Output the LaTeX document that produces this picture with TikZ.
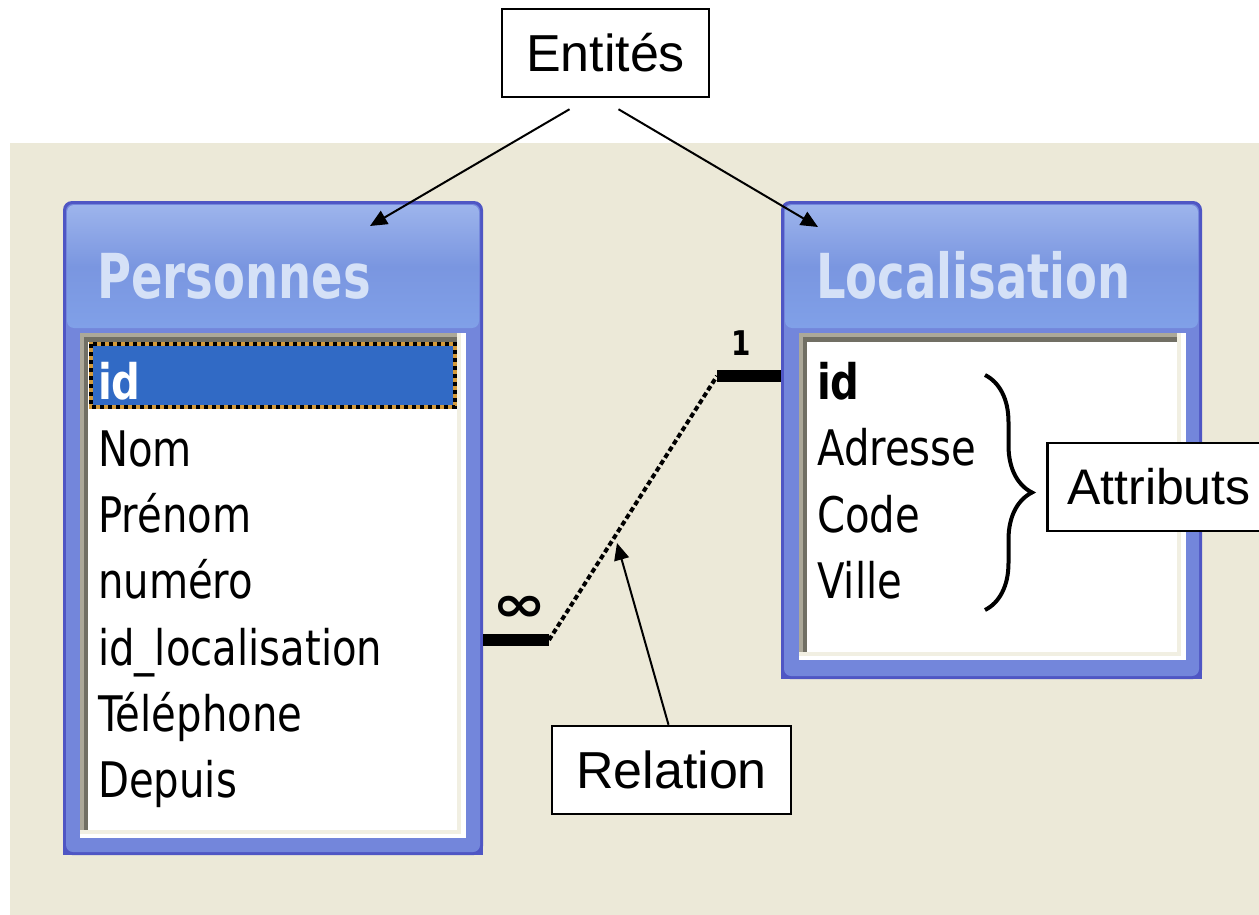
\documentclass[tikz,border=0pt]{standalone}
\usepackage{fontspec}
\usetikzlibrary{arrows.meta,decorations.pathreplacing,positioning}
\setmainfont{Liberation Sans}
\newfontfamily\rowfont[FakeStretch=0.82]{DejaVu Sans}
\newfontfamily\titlefont[FakeStretch=0.75]{DejaVu Sans}
\newfontfamily\symfont[FakeStretch=1.3]{DejaVu Sans}

\definecolor{xpbeige}{HTML}{ECE9D8}
\definecolor{xpedge}{HTML}{4F56C4}
\definecolor{xpframe}{HTML}{7386DB}
\definecolor{xptop}{HTML}{9DB4EC}
\definecolor{xptitle}{HTML}{7A96E0}
\definecolor{xptitlelow}{HTML}{80A0E8}
\definecolor{xptext}{HTML}{D5E1F7}
\definecolor{xpsel}{HTML}{316AC5}
\definecolor{xpfocus}{HTML}{D39A3A}
\definecolor{xpgray}{HTML}{ACA899}
\definecolor{xpdark}{HTML}{716F64}
\definecolor{xplight}{HTML}{F1EFE2}

\tikzset{
  lbl/.style={draw, line width=2.5pt, fill=white, font=\fontsize{52}{60}\selectfont,
    minimum height=88pt, inner xsep=22pt},
  lblarrow/.style={line width=2pt, -{Triangle[length=17pt,width=15pt]}},
  field/.style={anchor=base west, inner sep=0pt, font=\rowfont\fontsize{49}{55}\selectfont},
  wintitle/.style={anchor=base west, inner sep=0pt, text=xptext,
    font=\titlefont\bfseries\fontsize{62}{70}\selectfont},
  relthick/.style={line width=12pt},
  reldot/.style={line width=4pt, dash pattern=on 5pt off 3pt},
}

\begin{document}
\begin{tikzpicture}[x=1pt,y=-1pt]
        \useasboundingbox (0,0) rectangle (1259,915);
        \fill[white] (0,0) rectangle (1259,915);
        % Background of the relations window
        \fill[xpbeige] (10,143) rectangle (1259,915);

        % Window Personnes
        \fill[xpedge, rounded corners=9pt] (63,201) rectangle (483,855);
        \fill[xpedge] (63,240) rectangle (483,855);
        \fill[xpframe, rounded corners=7pt] (66,204) rectangle (480,852);
        \shade[top color=xptop, bottom color=xptitlelow, middle color=xptitle, rounded corners=7pt]
            (67,205) rectangle (479,328);
        \fill[white] (80,333) rectangle (466,838);
        \fill[xplight] (80,333) rectangle (461,834);
        \fill[xpgray] (80,333) rectangle (457,830);
        \fill[xpdark] (84,337) rectangle (457,830);
        \fill[white] (88,342) rectangle (457,830);
        % Selected row
        \fill[xpsel] (89,342) rectangle (457,409);
        \draw[xpfocus, line width=4pt] (91,344) rectangle (455,407);
        \draw[black, line width=4pt, dash pattern=on 4pt off 4pt] (91,344) rectangle (455,407);

        % Window Localisation
        \fill[xpedge, rounded corners=9pt] (781,201) rectangle (1202,679);
        \fill[xpedge] (781,240) rectangle (1202,679);
        \fill[xpframe, rounded corners=7pt] (784,204) rectangle (1199,676);
        \shade[top color=xptop, bottom color=xptitlelow, middle color=xptitle, rounded corners=7pt]
            (785,205) rectangle (1198,328);
        \fill[white] (799,333) rectangle (1186,660);
        \fill[xplight] (799,333) rectangle (1181,656);
        \fill[xpgray] (799,333) rectangle (1177,652);
        \fill[xpdark] (803,337) rectangle (1177,652);
        \fill[white] (807,342) rectangle (1177,652);

        % Titles
        \node[wintitle] (tPers) at (97,298) {Personnes};
        \node[wintitle] (tLoc) at (816,298) {Localisation};

        % Fields of Personnes
        \node[field, text=white, font=\rowfont\bfseries\fontsize{49}{55}\selectfont] (pId) at (98,399) {id};
        \node[field] (pNom) at (98,466) {Nom};
        \node[field] (pPrenom) at (98,532) {Prénom};
        \node[field] (pNum) at (98,598) {numéro};
        \node[field] (pIdLoc) at (98,665) {id\_localisation};
        \node[field] (pTel) at (98,731) {Téléphone};
        \node[field] (pDepuis) at (98,797) {Depuis};

        % Fields of Localisation
        \node[field, font=\rowfont\bfseries\fontsize{49}{55}\selectfont] (lId) at (817,399) {id};
        \node[field] (lAdr) at (817,465) {Adresse};
        \node[field] (lCode) at (817,532) {Code};
        \node[field] (lVille) at (817,598) {Ville};

        % Relation line
        \coordinate (persR) at (483,640);
        \coordinate (kinkA) at (549,640);
        \coordinate (kinkB) at (717,376);
        \coordinate (locL) at (781,376);
        \draw[relthick] (persR) -- (kinkA);
        \draw[reldot] (kinkA) -- (kinkB);
        \draw[relthick] (kinkB) -- (locL);
        \node[inner sep=0pt, font=\symfont\bfseries\fontsize{50}{50}\selectfont] (many) at (520,609) {∞};
        \node[inner sep=0pt, font=\rowfont\bfseries\fontsize{34}{34}\selectfont] (one) at (741,343) {1};

        % Brace over the attributes
        \draw[decorate, decoration={brace, amplitude=47pt}, line width=4pt] (985,375) -- (985,610);

        % Labels
        \node[lbl, minimum width=207pt] (ent) at (605.5,53) {Entités};
        \node[lbl, minimum width=239pt] (rel) at (671.5,770) {Relation};
        \node[lbl, anchor=west, inner xsep=20pt, font=\fontsize{50}{60}\selectfont] (attr) at (1046,487) {Attributs};

        \coordinate (persTip) at (370,226);
        \coordinate (locTip) at (818,227);
        \coordinate (relTip) at (617,543);
        \draw[lblarrow] ([xshift=-36pt,yshift=-11pt]ent.south) -- (persTip);
        \draw[lblarrow] ([xshift=13pt,yshift=-11pt]ent.south) -- (locTip);
        \draw[lblarrow] ([xshift=-3pt]rel.north) -- (relTip);
    \end{tikzpicture}
\end{document}
